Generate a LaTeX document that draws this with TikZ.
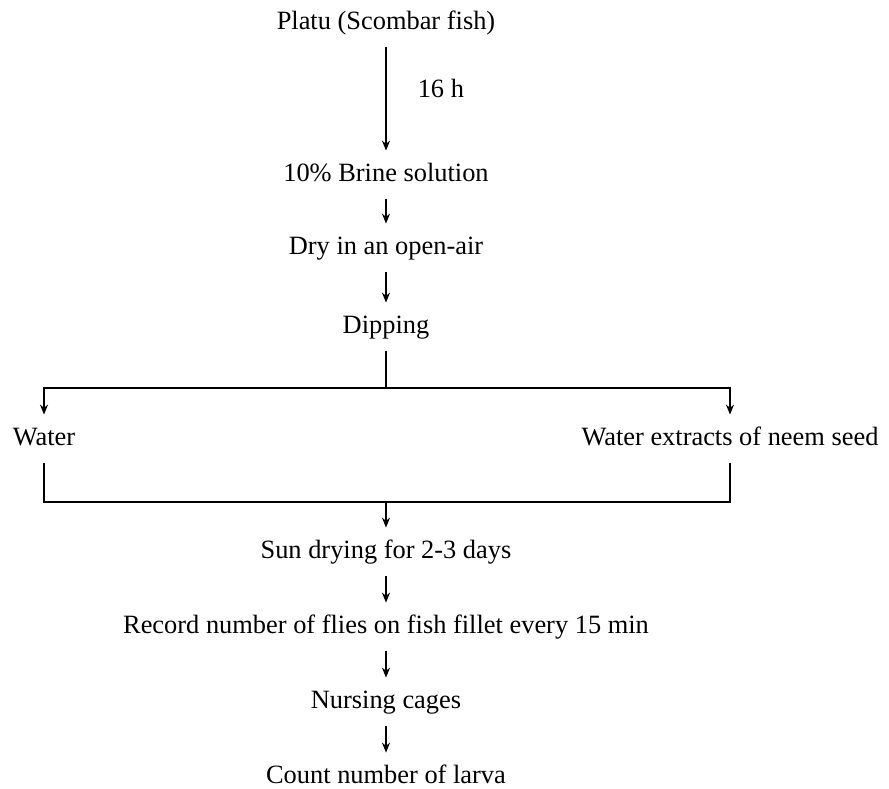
\documentclass[tikz,border=0pt]{standalone}
\usepackage{fontspec}
\setmainfont{Liberation Serif}
\usepackage{tikz}
\usetikzlibrary{arrows.meta}

\begin{document}
\begin{tikzpicture}[x=0.5pt, y=-0.5pt,
  stepnode/.style={anchor=base, inner xsep=0pt, inner ysep=6.3pt, text height=8.7pt, text depth=2.7pt, font=\fontsize{13.2}{15}\selectfont},
  timelabel/.style={inner sep=0pt, font=\fontsize{13.2}{15}\selectfont},
  flow/.style={-{Stealth[length=5pt,width=4pt]}, line width=0.75pt},
  link/.style={line width=0.75pt}]

\useasboundingbox (0,0) rectangle (889,788);

% Steps
\node[stepnode] (platu) at (386, 29) {Platu (Scombar fish)};
\node[stepnode] (brine) at (386, 181) {10\% Brine solution};
\node[stepnode] (dry) at (386, 254) {Dry in an open-air};
\node[stepnode] (dip) at (386, 333) {Dipping};

% Two treatments
\node[stepnode] (water) at (44, 445) {Water};
\node[stepnode] (neem) at (730, 445) {Water extracts of neem seed};

\node[stepnode] (sun) at (386, 558) {Sun drying for 2-3 days};
\node[stepnode] (record) at (386, 633) {Record number of flies on fish fillet every 15 min};
\node[stepnode] (nurse) at (386, 708) {Nursing cages};
\node[stepnode] (count) at (386, 783) {Count number of larva};

% Branch and join points
\coordinate (split) at (386, 388);
\coordinate (join) at (386, 502);

% Arrows
\draw[flow] (platu) -- node[timelabel, right=15.5pt, pos=0.4] {16 h} (brine);
\draw[flow] (brine) -- (dry);
\draw[flow] (dry) -- (dip);

\draw[link] (dip) -- (split);
\draw[flow] (split) -| (water);
\draw[flow] (split) -| (neem);

\draw[link] (water) |- (join) -| (neem);
\draw[flow] (join) -- (sun);

\draw[flow] (sun) -- (record);
\draw[flow] (record) -- (nurse);
\draw[flow] (nurse) -- (count);

\end{tikzpicture}
\end{document}
